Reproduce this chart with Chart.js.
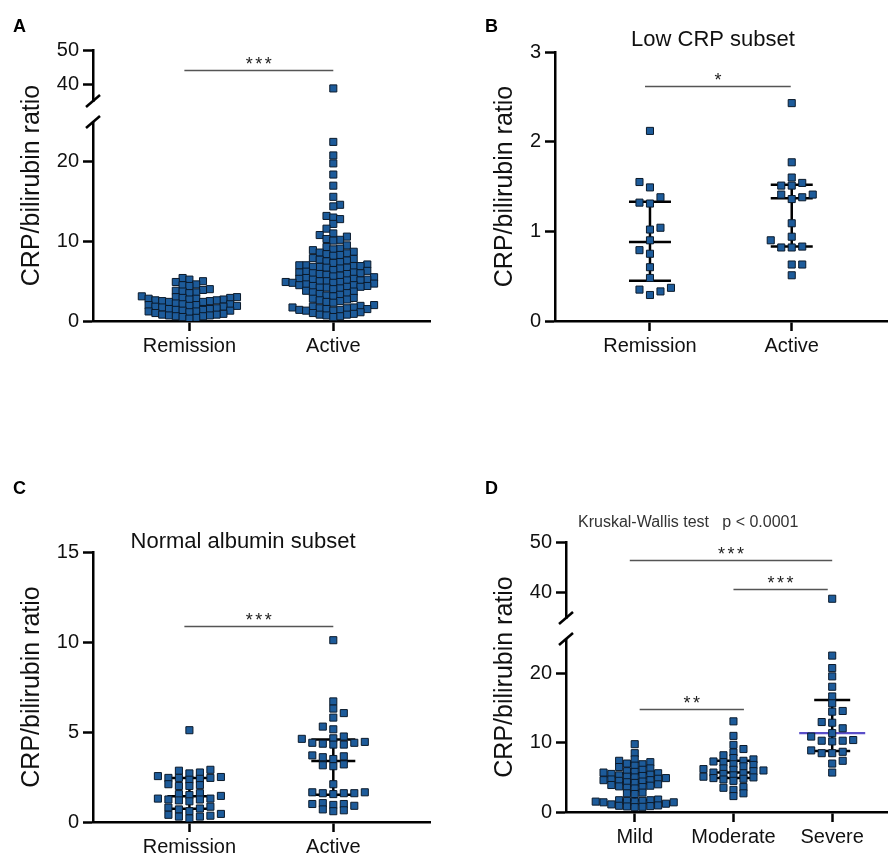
<!DOCTYPE html>
<html>
<head>
<meta charset="utf-8">
<script src="https://cdn.jsdelivr.net/npm/chart.js@4.4.1/dist/chart.umd.min.js"></script>
<style>
html,body{margin:0;padding:0;background:#fff;}
#wrap{position:relative;width:893px;height:856px;overflow:hidden;background:#fff;}
canvas{position:absolute;}
</style>
</head>
<body>
<div id="wrap">
<canvas id="cA" width="440" height="360" style="left:0;top:0"></canvas>
<canvas id="cB" width="453" height="360" style="left:440px;top:0"></canvas>
<canvas id="cC" width="440" height="426" style="left:0;top:430px"></canvas>
<canvas id="cD" width="453" height="426" style="left:440px;top:430px"></canvas>
</div>
<script>
// ---------------- DATA ----------------
const catsAB = ['Remission', 'Active'];
const catsD = ['Mild', 'Moderate', 'Severe'];

const yTicksA_low = [0, 10, 20];
const yTicksA_up = [40, 50];
const yTicksB = [0, 1, 2, 3];
const yTicksC = [0, 5, 10, 15];
const yTicksD_low = [0, 10, 20];
const yTicksD_up = [40, 50];

// Panel A
const aRemission = [5.4, 5.2, 5.0, 4.9, 4.6, 4.5, 4.4,
  4.0, 3.9, 3.8, 3.7, 3.6, 3.5,
  3.1, 3.0, 3.0, 2.9, 2.9, 2.8, 2.8, 2.7, 2.7, 2.6, 2.6, 2.5, 2.5, 2.4, 2.4,
  2.2, 2.1, 2.1, 2.0, 2.0, 1.9, 1.9, 1.8, 1.8, 1.7,
  1.6, 1.5, 1.5, 1.4, 1.4, 1.3, 1.3, 1.2, 1.2, 1.1, 1.0,
  0.9, 0.8, 0.8, 0.7, 0.7, 0.6, 0.6, 0.5, 0.4, 0.3];
const aActive = [38.7,
  22.5, 20.8, 19.8, 18.4, 17.0, 15.6, 14.6, 14.4, 13.2, 13.0, 12.8, 12.2, 11.6,
  11.0, 10.8, 10.6, 10.3, 10.2, 10.1,
  9.5, 9.3, 9.1, 9.0, 8.9,
  8.7, 8.6, 8.5, 8.4, 8.3, 8.2,
  7.9, 7.8, 7.7, 7.6, 7.5, 7.4, 7.3,
  7.1, 7.0, 7.0, 6.9, 6.9, 6.8, 6.8, 6.7, 6.7, 6.6,
  6.4, 6.3, 6.2, 6.1, 6.1, 6.0, 6.0, 5.9, 5.9, 5.8, 5.7, 5.6,
  5.5, 5.4, 5.3, 5.3, 5.2, 5.2, 5.1, 5.1, 5.0, 5.0, 4.9, 4.9, 4.8, 4.8, 4.7,
  4.6, 4.5, 4.5, 4.4, 4.4, 4.3, 4.3, 4.2, 4.2, 4.1, 4.0,
  3.8, 3.7, 3.6, 3.5, 3.4, 3.3, 3.2, 3.1,
  2.9, 2.8, 2.7, 2.6, 2.5, 2.4, 2.3,
  2.0, 1.9, 1.8, 1.7, 1.7, 1.6, 1.6, 1.5, 1.5, 1.4, 1.4, 1.3, 1.3,
  1.1, 1.0, 0.9, 0.8, 0.8, 0.7, 0.6, 0.5];
const aMedian = [1.9, 5.0];
const aQ1 = [1.2, 2.5];
const aQ3 = [2.6, 7.9];
const sigA = [{from: -0.035, to: 1.0, y: 44.1, axis: 'yUp', label: '***'}];

// Panel B (Low CRP subset)
const bRemission = [2.12, 1.55, 1.49, 1.38, 1.32, 1.31, 1.04, 1.02, 0.90, 0.79, 0.75, 0.60, 0.48, 0.37, 0.35, 0.33, 0.29];
const bActive = [2.43, 1.77, 1.60, 1.54, 1.51, 1.51, 1.41, 1.41, 1.38, 1.36, 1.09, 0.94, 0.90, 0.83, 0.82, 0.82, 0.63, 0.63, 0.51];
const bMedian = [0.88, 1.37];
const bQ1 = [0.45, 0.83];
const bQ3 = [1.33, 1.52];
const sigB = [{from: -0.035, to: 0.993, y: 2.62, axis: 'y', label: '*'}];

// Panel C (Normal albumin subset)
const cRemission = [5.1, 2.9, 2.85, 2.75, 2.7, 2.55, 2.5, 2.45, 2.45, 2.45, 2.4, 2.35, 2.1, 2.05, 2.0, 2.0,
  1.6, 1.55, 1.5, 1.45, 1.3, 1.3, 1.25, 1.25, 1.2, 1.15, 0.85, 0.8, 0.75, 0.7, 0.6, 0.45, 0.4, 0.35, 0.3, 0.3, 0.2];
const cActive = [10.1, 6.7, 6.3, 6.05, 5.8, 5.3, 5.15, 4.75, 4.65, 4.62, 4.45, 4.4, 4.4, 4.35, 4.3, 4.3,
  3.7, 3.65, 3.6, 3.5, 3.2, 3.15, 3.1, 2.1, 1.65, 1.65, 1.6, 1.6, 1.6, 1.55, 1.05, 1.0, 1.0, 0.95, 0.9, 0.7, 0.65, 0.6];
const cMedian = [1.43, 3.39];
const cQ1 = [0.74, 1.51];
const cQ3 = [2.44, 4.59];
const sigC = [{from: -0.035, to: 1.0, y: 10.88, axis: 'y', label: '***'}];

// Panel D (severity)
const dMild = [9.8, 8.5, 7.6, 7.4, 7.2, 7.0, 6.9, 6.7, 6.5, 6.3, 6.1,
  5.9, 5.8, 5.7, 5.6, 5.5, 5.4, 5.3, 5.2, 5.1, 5.0,
  4.9, 4.8, 4.7, 4.6, 4.6, 4.5, 4.4, 4.3, 4.2, 4.0, 3.9,
  3.8, 3.7, 3.6, 3.5, 3.4, 2.8, 2.7, 2.6,
  1.8, 1.7, 1.7, 1.6, 1.6, 1.5, 1.5, 1.4, 1.4, 1.2, 1.1,
  0.95, 0.9, 0.85, 0.8, 0.75, 0.7];
const dModerate = [13.1, 11.0, 9.7, 9.1, 8.6, 8.2, 7.8, 7.6, 7.4, 7.3, 7.2, 6.9, 6.8, 6.6, 6.3, 6.2, 6.1, 6.0, 5.9,
  5.7, 5.6, 5.5, 5.3, 5.1, 5.0, 4.9, 4.8, 4.7, 4.5, 3.6, 3.5, 3.2, 2.7, 2.3];
const dSevere = [38.8, 22.6, 20.8, 19.6, 18.1, 16.7, 15.7, 14.6, 14.5, 13.0, 12.9, 12.1, 11.4, 10.9, 10.4, 10.3,
  10.3, 10.2, 8.9, 8.7, 8.5, 8.5, 7.4, 7.0, 5.7];
const dMedian = [4.3, 5.7, 11.4];
const dQ1 = [1.7, 4.9, 8.8];
const dQ3 = [5.6, 7.4, 16.2];
const sigD = [
  {from: -0.05, to: 2.0, y: 46.4, axis: 'yUp', label: '***'},
  {from: 1.0, to: 1.955, y: 40.8, axis: 'yUp', label: '***'},
  {from: 0.05, to: 1.106, y: 14.9, axis: 'y', label: '**'}
];

// ---------------- STYLE / HELPERS ----------------
const FONT = '"Liberation Sans", Arial, Helvetica, sans-serif';
Chart.defaults.font.family = FONT;
Chart.defaults.color = '#111';
const FILL = '#1d5b9a';
const EDGE = '#0b1a2b';

function swarm(pys, sx, sy) {
  const order = pys.map((_, i) => i).sort((a, b) => pys[b] - pys[a]);
  const placed = [], out = [];
  let flip = 1;
  order.forEach(i => {
    const y = pys[i];
    const near = placed.filter(p => Math.abs(p.y - y) < sy);
    const cands = [0];
    near.forEach(p => cands.push(p.x + sx, p.x - sx));
    const ok = cands.filter(c => near.every(p => Math.abs(p.x - c) > sx - 0.01));
    ok.sort((a, b) => (Math.abs(a) - Math.abs(b)) || flip * (b - a));
    const x = ok[0];
    if (x !== 0) flip = -flip;
    placed.push({x, y});
    out[i] = x;
  });
  return out;
}

function drawStars(ctx, text, cx, baseY) {
  ctx.save();
  ctx.font = '18px ' + FONT;
  ctx.fillStyle = '#222';
  const sp = 2.5;
  ctx.letterSpacing = sp + 'px';
  const w = ctx.measureText(text).width - sp;
  ctx.textAlign = 'left';
  ctx.textBaseline = 'alphabetic';
  ctx.fillText(text, cx - w / 2, baseY);
  ctx.restore();
}

function makePanel(o) {
  const hasUp = !!o.up;
  const lowData = [], upData = [];
  o.groups.forEach((vals, g) => vals.forEach(v => {
    const pt = {x: g, y: v, g: g};
    if (hasUp && v > o.low.max) upData.push(pt); else lowData.push(pt);
  }));
  const ptStyle = {pointStyle: 'rect', pointRadius: 5, pointHoverRadius: 5,
    pointBackgroundColor: FILL, pointBorderColor: EDGE, pointBorderWidth: 1, showLine: false};
  const datasets = [Object.assign({data: lowData, yAxisID: 'y'}, ptStyle)];
  if (hasUp) datasets.push(Object.assign({data: upData, yAxisID: 'yUp'}, ptStyle));

  const yAxis = (min, max, ticks, extra) => Object.assign({
    type: 'linear', position: 'left', min: min, max: max,
    afterBuildTicks: s => { s.ticks = ticks.map(v => ({value: v})); },
    afterFit: s => { s.width = o.yW; },
    ticks: {font: {size: 20}, color: '#111', padding: 4},
    grid: {display: true, drawOnChartArea: false, tickLength: 10, tickWidth: 2.5, tickColor: '#000'},
    border: {display: true, width: 2.5, color: '#000'}
  }, extra);

  const scales = {
    x: {
      type: 'linear', position: 'bottom', min: o.xMin, max: o.xMax,
      afterBuildTicks: s => { s.ticks = o.cats.map((c, i) => ({value: i})); },
      afterFit: s => { s.height = o.xH; },
      ticks: {callback: v => (o.cats[v] !== undefined ? o.cats[v] : ''), autoSkip: false,
        maxRotation: 0, minRotation: 0, padding: 3, font: {size: 20}, color: '#111'},
      grid: {display: true, drawOnChartArea: false, tickLength: 10, tickWidth: 2.5, tickColor: '#000'},
      border: {display: true, width: 2.5, color: '#000'}
    },
    y: yAxis(o.low.min, o.low.max, o.low.ticks, hasUp ? {stack: 'brk', stackWeight: o.low.w, weight: 1} : {})
  };
  if (hasUp) {
    scales.ySp = {type: 'linear', position: 'left', stack: 'brk', stackWeight: o.gapW, weight: 2,
      display: true, afterFit: s => { s.width = o.yW; },
      ticks: {display: false}, grid: {display: false}, border: {display: false}};
    scales.yUp = yAxis(o.up.min, o.up.max, o.up.ticks, {stack: 'brk', stackWeight: o.up.w, weight: 3});
  }

  const deco = {
    id: 'deco',
    beforeDatasetsDraw(chart) {
      const ctx = chart.ctx, xs = chart.scales.x, ys = chart.scales.y;
      ctx.save();
      ctx.lineCap = 'butt';
      o.med.forEach((m, g) => {
        const cx = xs.getPixelForValue(g);
        const hw = o.barHalf;
        const y1 = ys.getPixelForValue(o.q1[g]);
        const y3 = ys.getPixelForValue(o.q3[g]);
        const ym = ys.getPixelForValue(m);
        ctx.strokeStyle = '#000';
        ctx.lineWidth = 2.5;
        ctx.beginPath();
        ctx.moveTo(cx, y1); ctx.lineTo(cx, y3);
        ctx.moveTo(cx - hw, y1); ctx.lineTo(cx + hw, y1);
        ctx.moveTo(cx - hw, y3); ctx.lineTo(cx + hw, y3);
        ctx.stroke();
        const mc = (o.medColor && o.medColor[g]) || '#000';
        const mhw = (o.medHalf && o.medHalf[g]) || hw;
        ctx.strokeStyle = mc;
        ctx.lineWidth = mc === '#000' ? 2.5 : 2.2;
        ctx.beginPath();
        ctx.moveTo(cx - mhw, ym); ctx.lineTo(cx + mhw, ym);
        ctx.stroke();
      });
      ctx.restore();
    },
    afterDraw(chart) {
      const ctx = chart.ctx, xs = chart.scales.x, ca = chart.chartArea;
      ctx.save();
      // significance bars
      o.sig.forEach(s => {
        const sc = chart.scales[s.axis];
        const x0 = xs.getPixelForValue(s.from), x1 = xs.getPixelForValue(s.to);
        const y = Math.round(sc.getPixelForValue(s.y)) + 0.5;
        ctx.strokeStyle = '#555';
        ctx.lineWidth = 1.3;
        ctx.beginPath(); ctx.moveTo(x0, y); ctx.lineTo(x1, y); ctx.stroke();
        drawStars(ctx, s.label, (x0 + x1) / 2, y - 1);
      });
      // axis break marks
      if (hasUp) {
        const ax = ca.left;
        const yb = [chart.scales.yUp.bottom, chart.scales.y.top];
        ctx.strokeStyle = '#000';
        ctx.lineWidth = 2.5;
        yb.forEach(yy => {
          ctx.beginPath();
          ctx.moveTo(ax - 7, yy + 6);
          ctx.lineTo(ax + 7, yy - 6);
          ctx.stroke();
        });
      }
      // y axis title
      ctx.save();
      ctx.translate(o.titleX, (ca.top + ca.bottom) / 2);
      ctx.rotate(-Math.PI / 2);
      ctx.font = '25px ' + FONT;
      ctx.fillStyle = '#111';
      ctx.textAlign = 'center';
      ctx.textBaseline = 'middle';
      ctx.fillText('CRP/bilirubin ratio', 0, 0);
      ctx.restore();
      // panel letter
      ctx.font = 'bold 18px ' + FONT;
      ctx.fillStyle = '#000';
      ctx.textAlign = 'left';
      ctx.textBaseline = 'alphabetic';
      ctx.fillText(o.letter.t, o.letter.x, o.letter.y);
      // other texts
      (o.texts || []).forEach(t => {
        ctx.font = t.size + 'px ' + FONT;
        ctx.fillStyle = t.color || '#111';
        ctx.textAlign = t.align;
        ctx.textBaseline = 'alphabetic';
        ctx.fillText(t.t, t.x, t.y);
      });
      ctx.restore();
    }
  };

  const chart = new Chart(document.getElementById(o.id), {
    type: 'scatter',
    data: {datasets},
    options: {
      responsive: false, animation: false, events: [],
      layout: {padding: o.pad},
      plugins: {legend: {display: false}, tooltip: {enabled: false}},
      scales
    },
    plugins: [deco]
  });

  // beeswarm layout computed from the values through the chart's own scales
  const xs = chart.scales.x;
  const unit = xs.getPixelForValue(1) - xs.getPixelForValue(0);
  chart.data.datasets.forEach(ds => {
    const sc = chart.scales[ds.yAxisID];
    const byG = {};
    ds.data.forEach((p, i) => { (byG[p.g] = byG[p.g] || []).push(i); });
    Object.keys(byG).forEach(g => {
      const idx = byG[g];
      const pys = idx.map(i => sc.getPixelForValue(ds.data[i].y));
      const offs = swarm(pys, o.sx[+g], o.sy);
      idx.forEach((i, k) => { ds.data[i].x = +g + offs[k] / unit; });
    });
  });
  chart.update('none');
  return chart;
}

// ---------------- PANELS ----------------
makePanel({
  id: 'cA', cats: catsAB, groups: [aRemission, aActive],
  med: aMedian, q1: aQ1, q3: aQ3, sig: sigA, barHalf: 20,
  pad: {left: 0, top: 50, right: 10, bottom: 0}, yW: 93, xH: 39,
  xMin: -0.67, xMax: 1.672,
  low: {min: 0, max: 25, ticks: yTicksA_low, w: 199},
  up: {min: 35, max: 50, ticks: yTicksA_up, w: 51}, gapW: 21,
  sx: [6.8, 6.8], sy: 6.0, titleX: 32, letter: {t: 'A', x: 13, y: 32}
});

makePanel({
  id: 'cB', cats: catsAB, groups: [bRemission, bActive],
  med: bMedian, q1: bQ1, q3: bQ3, sig: sigB, barHalf: 21,
  pad: {left: 0, top: 52, right: 0, bottom: 0}, yW: 115, xH: 39,
  xMin: -0.67, xMax: 1.672,
  low: {min: 0, max: 3, ticks: yTicksB},
  sx: [10.5, 10.5], sy: 7.5, titleX: 65, letter: {t: 'B', x: 45, y: 32},
  texts: [{t: 'Low CRP subset', x: 273, y: 46, size: 22, align: 'center'}]
});

makePanel({
  id: 'cC', cats: catsAB, groups: [cRemission, cActive],
  med: cMedian, q1: cQ1, q3: cQ3, sig: sigC, barHalf: 22,
  pad: {left: 0, top: 122, right: 10, bottom: 0}, yW: 93, xH: 34,
  xMin: -0.67, xMax: 1.672,
  low: {min: 0, max: 15, ticks: yTicksC},
  sx: [10.5, 10.5], sy: 6.0, titleX: 32, letter: {t: 'C', x: 13, y: 64},
  texts: [{t: 'Normal albumin subset', x: 243, y: 118, size: 22, align: 'center'}]
});

makePanel({
  id: 'cD', cats: catsD, groups: [dMild, dModerate, dSevere],
  med: dMedian, q1: dQ1, q3: dQ3, sig: sigD, barHalf: 18,
  medColor: [null, null, '#5b4fc9'], medHalf: [null, null, 33],
  pad: {left: 0, top: 112, right: 0, bottom: 0}, yW: 126, xH: 44,
  xMin: -0.696, xMax: 2.555,
  low: {min: 0, max: 25, ticks: yTicksD_low, w: 173},
  up: {min: 35, max: 50, ticks: yTicksD_up, w: 76}, gapW: 21,
  sx: [7.8, 10, 10.5], sy: 5.5, titleX: 65, letter: {t: 'D', x: 45, y: 64},
  texts: [{t: 'Kruskal-Wallis test   p < 0.0001', x: 138, y: 97, size: 16, align: 'left', color: '#333'}]
});
</script>
</body>
</html>
